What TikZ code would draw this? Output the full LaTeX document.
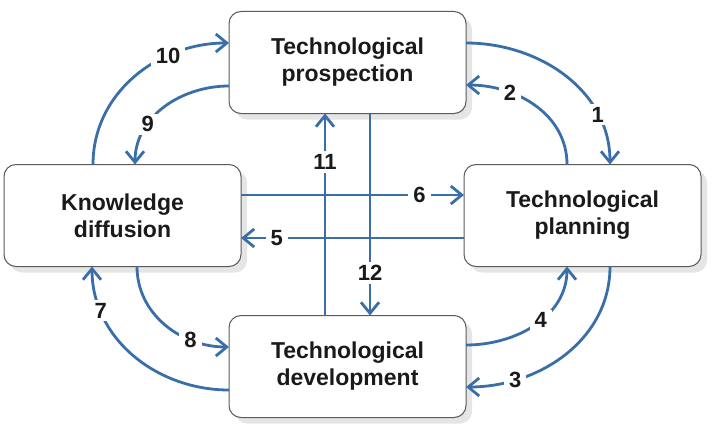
\documentclass[tikz,border=0pt]{standalone}
\usepackage{fontspec}
\setmainfont{Liberation Sans}
\usetikzlibrary{arrows.meta,calc,shadows}
\definecolor{conblue}{RGB}{58,110,168}
\definecolor{boxgray}{RGB}{90,90,90}
\definecolor{txt}{RGB}{26,26,26}
\tikzset{
  stagebox/.style={draw=boxgray, line width=1pt, rounded corners=12pt, fill=white,
    minimum width=237pt, minimum height=102pt, inner sep=0pt, outer sep=0pt,
    align=center, text=txt,
    font=\fontsize{23}{27}\selectfont\bfseries,
    drop shadow={shadow xshift=6pt, shadow yshift=-6pt, fill=black!10, opacity=1}},
  conn/.style={draw=conblue, line width=2.8pt, -{Straight Barb[length=11pt,width=18pt]}},
  lbl/.style={fill=white, inner xsep=5pt, inner ysep=3pt, text=txt, font=\fontsize{22}{24}\selectfont\bfseries}
}
\begin{document}
\begin{tikzpicture}[x=1pt,y=1pt]
\useasboundingbox (0,0) rectangle (714,432);
\node[stagebox] (tp) at (347.5,369.5) {Technological\\prospection};
\node[stagebox] (kd) at (122.5,216.5) {Knowledge\\diffusion};
\node[stagebox] (pl) at (582.5,216.5) {Technological\\planning};
\node[stagebox] (td) at (347.5,65.5) {Technological\\development};

% curved connectors
\draw[conn] ($(kd.north)+(-29.5,0)$) to[out=90,in=180] node[lbl,pos=0.7] (l10) {10} ($(tp.west)+(0,19.5)$);
\draw[conn] ($(tp.west)+(0,-23.5)$) to[out=180,in=90] node[lbl,pos=0.68] (l9) {9} ($(kd.north)+(12.5,0)$);
\draw[conn] ($(tp.east)+(0,19.5)$) to[out=0,in=90] node[lbl,pos=0.75] (l1) {1} ($(pl.north)+(27.5,0)$);
\draw[conn] ($(pl.north)+(-15.5,0)$) to[out=90,in=0] node[lbl,pos=0.7] (l2) {2} ($(tp.east)+(0,-22.5)$);
\draw[conn] ($(td.east)+(0,21.5)$) to[out=0,in=-90] node[lbl,pos=0.55] (l4) {4} ($(pl.south)+(-15.5,0)$);
\draw[conn] ($(pl.south)+(27.5,0)$) to[out=-90,in=0] node[lbl,pos=0.77] (l3) {3} ($(td.east)+(0,-20.5)$);
\draw[conn] ($(td.west)+(0,-23.5)$) to[out=180,in=-90] node[lbl,pos=0.78] (l7) {7} ($(kd.south)+(-30.5,0)$);
\draw[conn] ($(kd.south)+(14.5,0)$) to[out=-90,in=180] node[lbl,pos=0.72] (l8) {8} ($(td.west)+(0,19.5)$);

% straight connectors
\draw[conn] ($(kd.east)+(0,20.5)$) -- node[lbl,pos=0.8] (l6) {6} ($(pl.west)+(0,20.5)$);
\draw[conn] ($(pl.west)+(0,-22.5)$) -- node[lbl,pos=0.84] (l5) {5} ($(kd.east)+(0,-22.5)$);
\draw[conn] ($(td.north)+(-22.5,0)$) -- node[lbl,pos=0.76] (l11) {11} ($(tp.south)+(-22.5,0)$);
\draw[conn] ($(tp.south)+(22.5,0)$) -- node[lbl,pos=0.79] (l12) {12} ($(td.north)+(22.5,0)$);
\end{tikzpicture}
\end{document}
